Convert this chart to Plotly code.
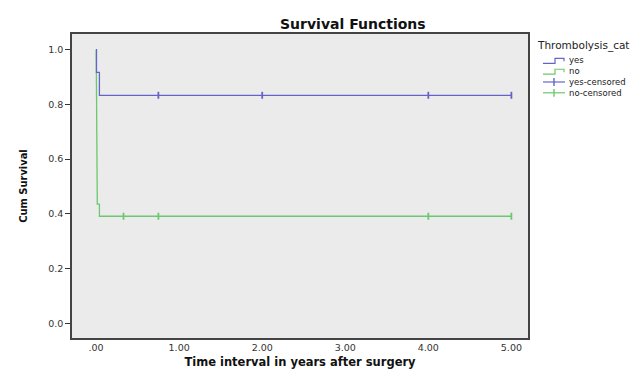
import plotly.graph_objects as go

# ---- data ----
groups = ["yes", "no"]
yes_times = [0.0, 0.005, 0.04, 5.0]
yes_surv = [1.0, 0.917, 0.833, 0.833]
yes_cens_t = [0.75, 2.0, 4.0, 5.0]
yes_cens_s = [0.833, 0.833, 0.833, 0.833]

no_times = [0.0, 0.002, 0.003, 0.004, 0.005, 0.006, 0.007, 0.008, 0.009, 0.010,
            0.011, 0.012, 0.013, 0.014, 0.04, 5.0]
no_surv = [1.0, 0.957, 0.913, 0.870, 0.826, 0.783, 0.739, 0.696, 0.652, 0.609,
           0.565, 0.522, 0.478, 0.435, 0.391, 0.391]
no_cens_t = [0.33, 0.75, 4.0, 5.0]
no_cens_s = [0.391, 0.391, 0.391, 0.391]

x_ticks = [0, 1, 2, 3, 4, 5]
x_ticklabels = [".00", "1.00", "2.00", "3.00", "4.00", "5.00"]
y_ticks = [0.0, 0.2, 0.4, 0.6, 0.8, 1.0]
y_ticklabels = ["0.0", "0.2", "0.4", "0.6", "0.8", "1.0"]
legend_names = ["yes", "no", "yes-censored", "no-censored"]

BLUE = "#6464C8"
GREEN = "#6CC86C"
FONT = "DejaVu Sans"

fig = go.Figure()
fig.add_trace(go.Scatter(x=no_times, y=no_surv, mode="lines", line_shape="hv",
                         line=dict(color=GREEN, width=1.3), showlegend=False))
fig.add_trace(go.Scatter(x=yes_times, y=yes_surv, mode="lines", line_shape="hv",
                         line=dict(color=BLUE, width=1.3), showlegend=False))
fig.add_trace(go.Scatter(x=no_cens_t, y=no_cens_s, mode="markers",
                         marker=dict(symbol="line-ns", size=5,
                                     line=dict(color=GREEN, width=1.8)),
                         showlegend=False))
fig.add_trace(go.Scatter(x=yes_cens_t, y=yes_cens_s, mode="markers",
                         marker=dict(symbol="line-ns", size=5,
                                     line=dict(color=BLUE, width=1.8)),
                         showlegend=False))

# ---- custom legend (paper coordinates) ----
W, H = 642, 371
ml, mr, mt, mb = 64, 122, 26, 34
pw, ph = W - ml - mr, H - mt - mb

def px(x):
    return (x - ml) / pw

def py(y):
    return 1 - (y - mt) / ph

LEG_FS = 8.5
LINE_H = LEG_FS * 1.3
y0 = 53
shapes = []
annotations = []
annotations.append(dict(text="Thrombolysis_cat", x=px(527), y=py(38), xref="paper", yref="paper",
                        xanchor="left", yanchor="middle", showarrow=False,
                        font=dict(family=FONT, size=10.5, color="#222")))
kinds = [(BLUE, "step"), (GREEN, "step"), (BLUE, "cens"), (GREEN, "cens")]
for i, (col, kind) in enumerate(kinds):
    yy = y0 + i * LINE_H
    if kind == "step":
        path = (f"M {px(535)} {py(yy+3)} L {px(547)} {py(yy+3)} L {px(547)} {py(yy-2)} "
                f"L {px(556)} {py(yy-2)} L {px(556)} {py(yy+1)}")
        shapes.append(dict(type="path", path=path, xref="paper", yref="paper",
                           line=dict(color=col, width=1.2)))
    else:
        shapes.append(dict(type="line", x0=px(535), x1=px(557), y0=py(yy), y1=py(yy),
                           xref="paper", yref="paper", line=dict(color=col, width=1.2)))
        shapes.append(dict(type="line", x0=px(546), x1=px(546), y0=py(yy - 4), y1=py(yy + 4),
                           xref="paper", yref="paper", line=dict(color=col, width=1.4)))
annotations.append(dict(text="<br>".join(legend_names), x=px(559),
                        y=py(y0 + 1.5 * LINE_H), xref="paper", yref="paper",
                        xanchor="left", yanchor="middle", align="left", showarrow=False,
                        font=dict(family=FONT, size=LEG_FS, color="#222")))

annotations.append(dict(text="<b>Survival Functions</b>", x=px(345), y=py(16),
                        xref="paper", yref="paper", xanchor="center", yanchor="middle",
                        showarrow=False, font=dict(family=FONT, size=14, color="#111")))

fig.update_layout(
    width=W, height=H,
    margin=dict(l=ml, r=mr, t=mt, b=mb),
    paper_bgcolor="white", plot_bgcolor="#EBEBEB",
    shapes=shapes, annotations=annotations,
    xaxis=dict(range=[-0.29, 5.2], tickvals=x_ticks, ticktext=x_ticklabels,
               showgrid=False, zeroline=False, showline=True, linecolor="#444",
               linewidth=1.5, mirror=True, ticks="", ticklen=0,
               tickfont=dict(family=FONT, size=9.5, color="#333"),
               title=dict(text="<b>Time interval in years after surgery</b>",
                          font=dict(family=FONT, size=11.5, color="#111"), standoff=6)),
    yaxis=dict(range=[-0.054, 1.057], tickvals=y_ticks, ticktext=y_ticklabels,
               showgrid=False, zeroline=False, showline=True, linecolor="#444",
               linewidth=1.5, mirror=True, ticks="outside", ticklen=5, tickcolor="#333",
               tickfont=dict(family=FONT, size=9.5, color="#333"),
               title=dict(text="<b>Cum Survival</b>",
                          font=dict(family="DejaVu Sans Condensed", size=11, color="#111"),
                          standoff=18)),
)

fig.write_html("out.html")
